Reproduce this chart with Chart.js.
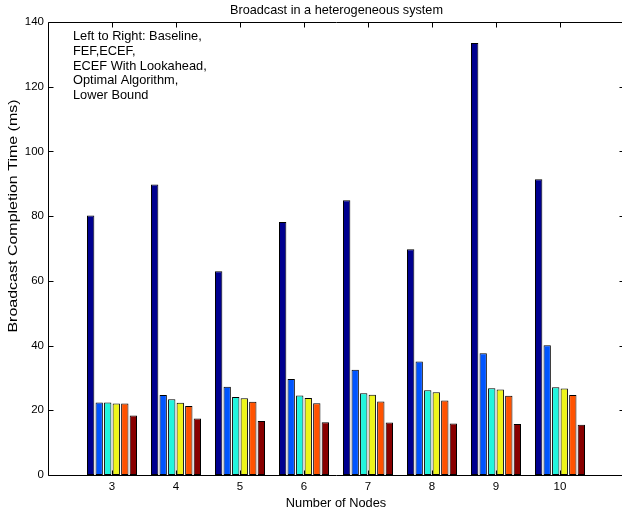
<!DOCTYPE html>
<html>
<head>
<meta charset="utf-8">
<script src="https://cdn.jsdelivr.net/npm/chart.js@4/dist/chart.umd.min.js"></script>
<style>
html,body{margin:0;padding:0;background:#fff;overflow:hidden;}
#wrap{width:640px;height:514px;}
</style>
</head>
<body>
<div id="wrap"><canvas id="c" width="640" height="514"></canvas></div>
<script>
const categories = ['3','4','5','6','7','8','9','10'];
const seriesNames = ['Baseline','FEF','ECEF','ECEF With Lookahead','Optimal Algorithm','Lower Bound'];
const baseline      = [80.2, 89.8, 63.0, 78.2, 84.9, 69.8, 133.5, 91.4];
const fef           = [22.4, 24.7, 27.3, 29.7, 32.5, 35.1, 37.6, 40.1];
const ecef          = [22.4, 23.4, 24.1, 24.6, 25.3, 26.2, 26.8, 27.1];
const ecefLookahead = [22.1, 22.3, 23.7, 23.8, 24.8, 25.6, 26.4, 26.7];
const optimal       = [22.1, 21.3, 22.6, 22.2, 22.7, 23.0, 24.5, 24.7];
const lowerBound    = [18.4, 17.5, 16.7, 16.3, 16.2, 15.9, 15.8, 15.5];
const yTicks = [0,20,40,60,80,100,120,140];
const titleText = 'Broadcast in a heterogeneous system';
const xTitle = 'Number of Nodes';
const yTitle = 'Broadcast Completion Time (ms)';
const noteLines = ['Left to Right: Baseline,','FEF,ECEF,','ECEF With Lookahead,','Optimal Algorithm,','Lower Bound'];

const colors = ['#00008F','#0055FF','#22F5DD','#EEF51A','#FF5200','#880000'];
const allSeries = [baseline, fef, ecef, ecefLookahead, optimal, lowerBound];
const labels = [''].concat(categories, ['']);
const FONT = '"Liberation Sans", Arial, Helvetica, sans-serif';

const datasets = allSeries.map((s, i) => ({
  label: seriesNames[i],
  data: [null].concat(s, [null]),
  backgroundColor: colors[i],
  borderColor: '#000',
  borderWidth: 1,
  borderSkipped: false,
  categoryPercentage: 0.8,
  barPercentage: 0.86
}));

const decor = {
  id: 'decor',
  afterDraw(chart) {
    const ctx = chart.ctx, a = chart.chartArea;
    const xs = chart.scales.x, ys = chart.scales.y;
    ctx.save();
    ctx.strokeStyle = '#000';
    ctx.lineWidth = 1;
    const L = Math.round(a.left) + 0.5, R = Math.round(a.right) + 0.5;
    const T = Math.round(a.top) + 0.5, B = Math.round(a.bottom) + 0.5;
    ctx.beginPath();
    ctx.rect(L, T, R - L, B - T);
    yTicks.forEach(v => {
      const y = Math.round(ys.getPixelForValue(v)) + 0.5;
      ctx.moveTo(L, y); ctx.lineTo(L + 5, y);
      ctx.moveTo(R, y); ctx.lineTo(R - 5, y);
    });
    categories.forEach((c, i) => {
      const x = Math.round(xs.getPixelForValue(i + 1)) + 0.5;
      ctx.moveTo(x, B); ctx.lineTo(x, B - 5);
      ctx.moveTo(x, T); ctx.lineTo(x, T + 5);
    });
    ctx.stroke();
    ctx.fillStyle = '#000';
    ctx.font = '12.7px ' + FONT;
    ctx.textAlign = 'center';
    ctx.textBaseline = 'middle';
    ctx.fillText(titleText, 336.5, 10);
    ctx.save();
    ctx.translate(13.5, 216);
    ctx.rotate(-Math.PI / 2);
    ctx.scale(1.23, 1);
    ctx.font = '13px ' + FONT;
    ctx.fillText(yTitle, 0, 0);
    ctx.restore();
    ctx.textAlign = 'left';
    ctx.textBaseline = 'alphabetic';
    ctx.font = '12.8px ' + FONT;
    noteLines.forEach((t, i) => ctx.fillText(t, 73, 40 + i * 14.8));
    ctx.restore();
  }
};

new Chart(document.getElementById('c'), {
  type: 'bar',
  data: { labels, datasets },
  options: {
    responsive: false,
    animation: false,
    devicePixelRatio: 1,
    layout: { padding: { top: 22, right: 16, left: 0, bottom: 0 } },
    plugins: { legend: { display: false }, tooltip: { enabled: false }, title: { display: false } },
    scales: {
      x: {
        type: 'category',
        offset: false,
        grid: { display: false, drawTicks: false },
        border: { display: false },
        ticks: { color: '#000', font: { family: FONT, size: 11.5 }, padding: 5, maxRotation: 0, autoSkip: false },
        title: { display: true, text: xTitle, color: '#000', font: { family: FONT, size: 12.8 }, padding: { top: 0, bottom: 3 } },
        afterFit(s) { s.height = 39; }
      },
      y: {
        min: 0, max: 140,
        grid: { display: false, drawTicks: false },
        border: { display: false },
        ticks: { stepSize: 20, color: '#000', font: { family: FONT, size: 11.5 }, padding: 4 },
        afterFit(s) { s.width = 48; }
      }
    }
  },
  plugins: [decor]
});
</script>
</body>
</html>
